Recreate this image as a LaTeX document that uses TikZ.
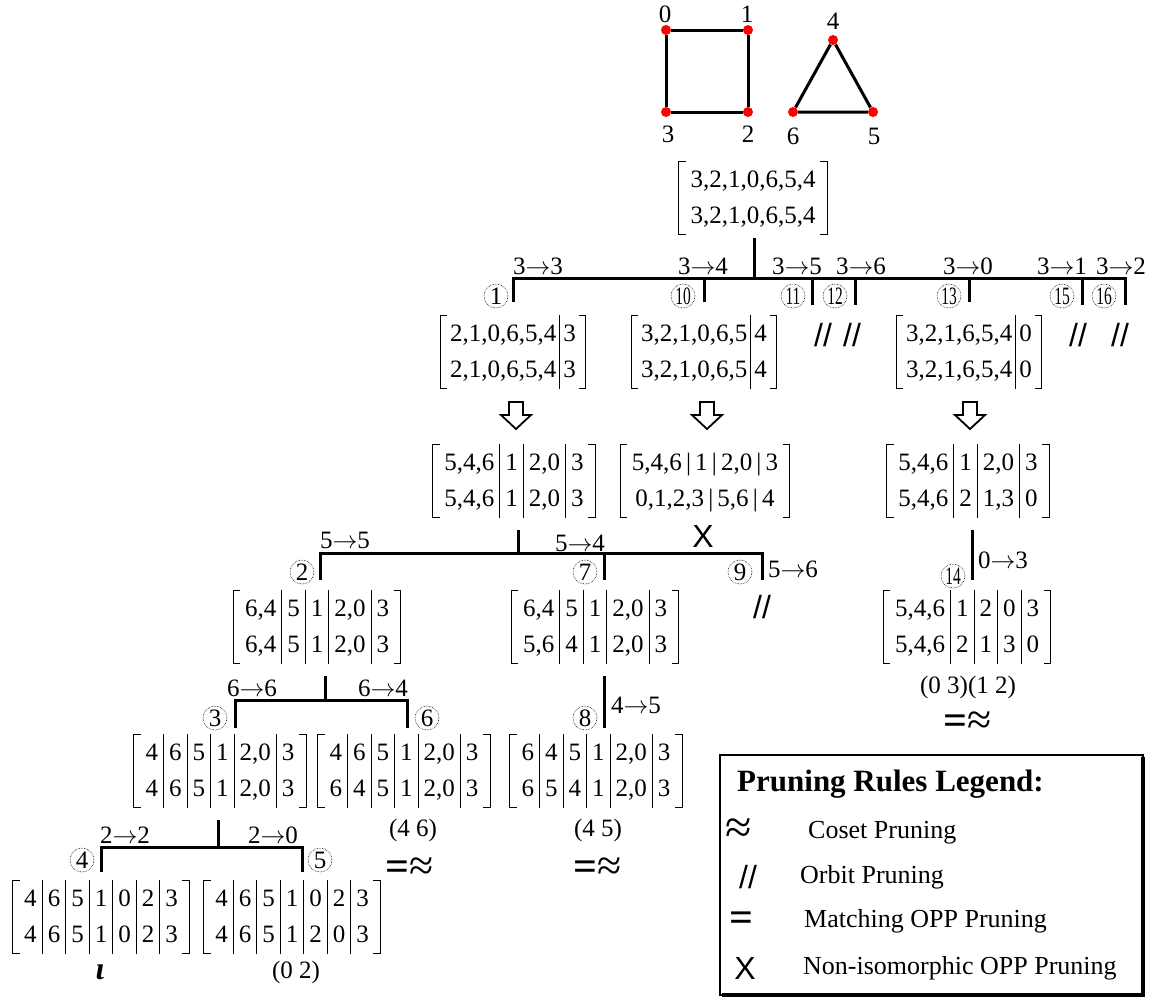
\documentclass[tikz,border=0pt]{standalone}
\usepackage{fontspec}
\setmainfont{Liberation Serif}
\setsansfont{Liberation Sans}
\usepackage{graphicx}
\renewcommand{\arraystretch}{1.22}
\setlength{\tabcolsep}{5.5pt}
\setlength{\arrayrulewidth}{0.9pt}
\begin{document}
\begin{tikzpicture}[x=1pt,y=-1pt]
  \tikzset{
    mat/.style={inner xsep=6pt, inner ysep=0pt, font=\fontsize{25}{30}\selectfont},
    tight/.style={execute at begin node=\setlength{\tabcolsep}{3.5pt}},
    brk/.style={line width=1.1pt},
    tree/.style={line width=3pt},
    lbl/.style={font=\fontsize{25}{30}\selectfont, inner sep=0pt},
    ord/.style={circle, draw, densely dotted, line width=0.6pt, minimum size=24pt, inner sep=0pt, font=\fontsize{25}{25}\selectfont},
    prn/.style={font=\sffamily\fontsize{32}{32}\selectfont, inner sep=0pt},
    big/.style={font=\fontsize{42}{42}\selectfont, inner sep=0pt, text height=21pt, text depth=0pt},
    vtx/.style={circle, fill=red, minimum size=10pt, inner sep=0pt},
    hol/.style={draw, line width=1.8pt, line join=miter, fill=white},
    edge/.style={line width=3pt}
  }
  \useasboundingbox (0,0) rectangle (1158,999);

  \node[vtx] (v0) at (666,30) {};
  \node[vtx] (v1) at (748,30) {};
  \node[vtx] (v2) at (748,112) {};
  \node[vtx] (v3) at (666,112) {};
  \node[vtx] (v4) at (833,40) {};
  \node[vtx] (v5) at (873,112) {};
  \node[vtx] (v6) at (793,112) {};
  \draw[edge] (v0) -- (v1) -- (v2) -- (v3) -- (v0);
  \draw[edge] (v4) -- (v5) -- (v6) -- (v4);
  \node[lbl] (n0) at (665,14) {0};
  \node[lbl] (n1) at (747,14) {1};
  \node[lbl] (n3) at (668,134) {3};
  \node[lbl] (n2) at (748,134) {2};
  \node[lbl] (n4) at (833,21) {4};
  \node[lbl] (n6) at (793,136) {6};
  \node[lbl] (n5) at (874,136) {5};

  \node[mat] (root) at (753,198) {\begin{tabular}{c}3,2,1,0,6,5,4\\3,2,1,0,6,5,4\end{tabular}};

  \node[mat,tight] (m1) at (513,352) {\begin{tabular}{c|c}2,1,0,6,5,4&3\\2,1,0,6,5,4&3\end{tabular}};
  \node[mat,tight] (m10) at (704,352) {\begin{tabular}{c|c}3,2,1,0,6,5&4\\3,2,1,0,6,5&4\end{tabular}};
  \node[mat,tight] (m13) at (969,352) {\begin{tabular}{c|c}3,2,1,6,5,4&0\\3,2,1,6,5,4&0\end{tabular}};

  \node[mat] (r1) at (514,481) {\begin{tabular}{c|c|c|c}5,4,6&1&2,0&3\\5,4,6&1&2,0&3\end{tabular}};
  \node[mat] (r10) at (705,481) {\begin{tabular}{c}5,4,6\,|\,1\,|\,2,0\,|\,3\\0,1,2,3\,|\,5,6\,|\,4\end{tabular}};
  \node[mat] (r13) at (968,481) {\begin{tabular}{c|c|c|c}5,4,6&1&2,0&3\\5,4,6&2&1,3&0\end{tabular}};

  \node[mat] (m2) at (317,627) {\begin{tabular}{c|c|c|c|c}6,4&5&1&2,0&3\\6,4&5&1&2,0&3\end{tabular}};
  \node[mat] (m7) at (595,627) {\begin{tabular}{c|c|c|c|c}6,4&5&1&2,0&3\\5,6&4&1&2,0&3\end{tabular}};
  \node[mat] (m14) at (967,627) {\begin{tabular}{c|c|c|c|c}5,4,6&1&2&0&3\\5,4,6&2&1&3&0\end{tabular}};

  \node[mat] (m3) at (220,771) {\begin{tabular}{c|c|c|c|c|c}4&6&5&1&2,0&3\\4&6&5&1&2,0&3\end{tabular}};
  \node[mat] (m6) at (404,771) {\begin{tabular}{c|c|c|c|c|c}4&6&5&1&2,0&3\\6&4&5&1&2,0&3\end{tabular}};
  \node[mat] (m8) at (596,771) {\begin{tabular}{c|c|c|c|c|c}6&4&5&1&2,0&3\\6&5&4&1&2,0&3\end{tabular}};

  \node[mat] (m4) at (101,917) {\begin{tabular}{c|c|c|c|c|c|c}4&6&5&1&0&2&3\\4&6&5&1&0&2&3\end{tabular}};
  \node[mat] (m5) at (292,917) {\begin{tabular}{c|c|c|c|c|c|c}4&6&5&1&0&2&3\\4&6&5&1&2&0&3\end{tabular}};

  \foreach \m in {root,m1,m10,m13,r1,r10,r13,m2,m7,m14,m3,m6,m8,m4,m5}{
    \draw[brk] ([xshift=7pt]\m.north west) -- (\m.north west) -- (\m.south west) -- ([xshift=7pt]\m.south west);
    \draw[brk] ([xshift=-7pt]\m.north east) -- (\m.north east) -- (\m.south east) -- ([xshift=-7pt]\m.south east);
  }

  \coordinate (h0) at (754,278);
  \coordinate (d11) at (812,305);
  \coordinate (d12) at (855,305);
  \coordinate (d15) at (1082,305);
  \coordinate (d16) at (1125,305);
  \draw[tree] ([yshift=-3pt]root.south -| h0) -- (h0);
  \draw[tree] ([yshift=13pt]m1.north) |- (h0) -| (d16);
  \draw[tree] (h0 -| m10) -- ([yshift=13pt]m10.north);
  \draw[tree] (h0 -| m13) -- ([yshift=13pt]m13.north);
  \draw[tree] (h0 -| d11) -- (d11);
  \draw[tree] (h0 -| d12) -- (d12);
  \draw[tree] (h0 -| d15) -- (d15);

  \node[lbl] (b33) at (538,266) {3$\to$3};
  \node[lbl] (b34) at (703,266) {3$\to$4};
  \node[lbl] (b35) at (797,266) {3$\to$5};
  \node[lbl] (b36) at (861,266) {3$\to$6};
  \node[lbl] (b30) at (968,266) {3$\to$0};
  \node[lbl] (b31) at (1062,266) {3$\to$1};
  \node[lbl] (b32) at (1121,266) {3$\to$2};

  \node[ord] (c1) at (496,296) {1};
  \node[ord] (c10) at (683,296) {\scalebox{0.62}[1]{10}};
  \node[ord] (c11) at (793,296) {\scalebox{0.62}[1]{11}};
  \node[ord] (c12) at (835,296) {\scalebox{0.62}[1]{12}};
  \node[ord] (c13) at (949,296) {\scalebox{0.62}[1]{13}};
  \node[ord] (c15) at (1062,296) {\scalebox{0.62}[1]{15}};
  \node[ord] (c16) at (1104,296) {\scalebox{0.62}[1]{16}};

  \node[prn] (p11) at (823,335) {//};
  \node[prn] (p12) at (852,335) {//};
  \node[prn] (p15) at (1078,335) {//};
  \node[prn] (p16) at (1120,335) {//};

  \coordinate (a1) at (516,415);
  \coordinate (a10) at (707,415);
  \coordinate (a13) at (970,415);
  \foreach \a in {a1,a10,a13}{
    \draw[hol] (\a) ++(-7,-13) -- ++(14,0) -- ++(0,13) -- ++(8,0) -- ++(-15,14) -- ++(-15,-14) -- ++(8,0) -- cycle;
  }

  \node[prn] (x10) at (703,536) {X};

  \coordinate (h1) at (518,553);
  \coordinate (d2) at (320,580);
  \coordinate (d7) at (604,580);
  \coordinate (d9) at (762,580);
  \draw[tree] ([yshift=-12pt]r1.south -| h1) -- (h1);
  \draw[tree] (d2) |- (h1) -| (d9);
  \draw[tree] (h1 -| d7) -- (d7);
  \node[lbl] (b55) at (345,540) {5$\to$5};
  \node[lbl] (b54) at (580,543) {5$\to$4};
  \node[lbl] (b56) at (793,569) {5$\to$6};
  \node[ord] (c2) at (302,572) {2};
  \node[ord] (c7) at (585,572) {7};
  \node[ord] (c9) at (740,572) {9};
  \node[prn] (p9) at (762,607) {//};

  \coordinate (d14) at (972,580);
  \draw[tree] ([yshift=-12pt]r13.south -| d14) -- (d14);
  \node[lbl] (b03) at (1003,560) {0$\to$3};
  \node[ord] (c14) at (953,576) {\scalebox{0.62}[1]{14}};
  \node[lbl] (g14) at (968,687) {(0 3)(1 2)};
  \node[big] (e14) at (968,724) {\textbf{=}{\fontsize{44}{44}\selectfont≈}};

  \coordinate (h2) at (325,700);
  \coordinate (d3) at (235,728);
  \coordinate (d6) at (407,728);
  \draw[tree] ([yshift=-12pt]m2.south -| h2) -- (h2);
  \draw[tree] (d3) |- (h2) -| (d6);
  \node[lbl] (b66) at (252,688) {6$\to$6};
  \node[lbl] (b64) at (383,688) {6$\to$4};
  \node[ord] (c3) at (215,718) {3};
  \node[ord] (c6) at (427,718) {6};

  \coordinate (d8) at (604,728);
  \draw[tree] ([yshift=-12pt]m7.south -| d8) -- (d8);
  \node[lbl] (b45) at (636,705) {4$\to$5};
  \node[ord] (c8) at (585,718) {8};

  \node[lbl] (g6) at (413,830) {(4 6)};
  \node[big] (e6) at (410,870) {\textbf{=}{\fontsize{44}{44}\selectfont≈}};
  \node[lbl] (g8) at (598,830) {(4 5)};
  \node[big] (e8) at (598,870) {\textbf{=}{\fontsize{44}{44}\selectfont≈}};

  \coordinate (h3) at (218,847);
  \coordinate (d4) at (101,872);
  \coordinate (d5) at (302,872);
  \draw[tree] ([yshift=-12pt]m3.south -| h3) -- (h3);
  \draw[tree] (d4) |- (h3) -| (d5);
  \node[lbl] (b22) at (125,835) {2$\to$2};
  \node[lbl] (b20) at (273,835) {2$\to$0};
  \node[ord] (c4) at (82,860) {4};
  \node[ord] (c5) at (320,860) {5};

  \node[lbl, font=\fontsize{32}{32}\selectfont] (g4) at (100,972) {\textbf{\textit{ι}}};
  \node[lbl] (g5) at (296,972) {(0 2)};

  \draw[line width=2pt] (720,755) rectangle (1143,995);
  \draw[line width=4pt] (1143,757) -- (1143,995) -- (722,995);
  \node[lbl, anchor=west, font=\fontsize{31}{31}\selectfont\bfseries] (title) at (737,784) {Pruning Rules Legend:};
  \node[big, font=\fontsize{48}{48}\selectfont] (s1) at (739,833) {≈};
  \node[prn] (s2) at (748,877) {//};
  \node[big] (s3) at (741,921) {\textbf{=}};
  \node[prn] (s4) at (745,968) {X};
  \node[lbl, anchor=west, font=\fontsize{26}{26}\selectfont] (t1) at (808,833) {Coset Pruning};
  \node[lbl, anchor=west, font=\fontsize{26}{26}\selectfont] (t2) at (800,877) {Orbit Pruning};
  \node[lbl, anchor=west, font=\fontsize{26}{26}\selectfont] (t3) at (804,921) {Matching OPP Pruning};
  \node[lbl, anchor=west, font=\fontsize{26}{26}\selectfont] (t4) at (803,968) {Non-isomorphic OPP Pruning};
\end{tikzpicture}
\end{document}
